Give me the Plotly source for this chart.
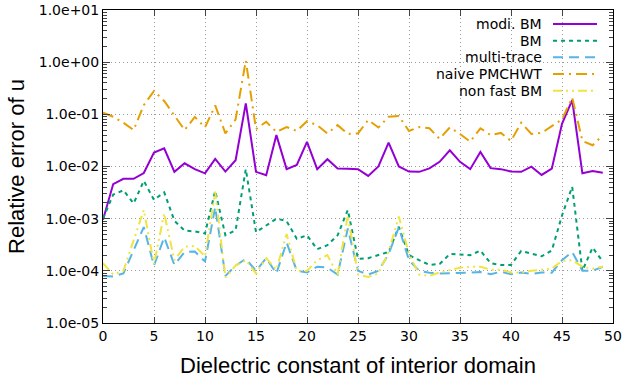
import plotly.graph_objects as go

# ---------------- data ----------------
eps = list(range(50))

modi_bm = [9.5e-4, 4.6e-3, 5.8e-3, 5.8e-3, 7.5e-3, 1.85e-2, 2.24e-2, 7.9e-3, 1.15e-2, 8.9e-3,
           7.4e-3, 1.4e-2, 8.0e-3, 1.32e-2, 0.162, 7.9e-3, 6.8e-3, 4.0e-2, 8.9e-3, 1.07e-2,
           2.96e-2, 8.9e-3, 1.38e-2, 9.2e-3, 9.1e-3, 8.9e-3, 6.6e-3, 1.0e-2, 2.87e-2, 1.0e-2,
           8.0e-3, 7.9e-3, 9.2e-3, 1.23e-2, 2.05e-2, 1.23e-2, 8.9e-3, 1.9e-2, 9.3e-3, 8.9e-3,
           8.0e-3, 7.9e-3, 9.9e-3, 6.9e-3, 9.1e-3, 6.6e-2, 0.187, 7.4e-3, 8.2e-3, 7.6e-3]

bm = [1.0e-3, 2.9e-3, 3.5e-3, 1.96e-3, 5.3e-3, 2.3e-3, 3.2e-3, 9.1e-4, 5.9e-4, 5.7e-4,
      5.2e-4, 3.4e-3, 4.8e-4, 6.0e-4, 8.9e-3, 5.5e-4, 7.4e-4, 1.0e-3, 9.0e-4, 4.1e-4,
      4.8e-4, 2.6e-4, 3.1e-4, 4.8e-4, 1.47e-3, 1.7e-4, 1.75e-4, 2.0e-4, 2.3e-4, 7.0e-4,
      2.0e-4, 1.6e-4, 1.3e-4, 1.35e-4, 2.1e-4, 2.05e-4, 2.0e-4, 2.45e-4, 1.4e-4, 1.3e-4,
      1.3e-4, 2.4e-4, 2.1e-4, 1.9e-4, 2.45e-4, 1.15e-3, 4.1e-3, 1.0e-4, 2.8e-4, 1.5e-4]

multi_trace = [8.0e-5, 7.8e-5, 8.9e-5, 2.5e-4, 6.9e-4, 1.26e-4, 4.4e-4, 1.3e-4, 2.3e-4, 2.35e-4,
               1.5e-4, 1.66e-3, 8.0e-5, 1.26e-4, 1.7e-4, 1.0e-4, 1.75e-4, 8.9e-5, 3.5e-4, 1.0e-4,
               9.3e-5, 1.2e-4, 1.15e-4, 8.5e-5, 6.5e-4, 1.0e-4, 8.5e-5, 1.0e-4, 2.1e-4, 6.8e-4,
               1.6e-4, 1.0e-4, 9.2e-5, 8.9e-5, 8.9e-5, 8.9e-5, 9.2e-5, 9.5e-5, 8.6e-5, 9.6e-5,
               8.6e-5, 9.3e-5, 8.7e-5, 9.3e-5, 9.2e-5, 1.6e-4, 2.3e-4, 1.0e-4, 1.0e-4, 1.2e-4]

naive_pmchwt = [0.107, 0.09, 0.069, 0.05, 0.15, 0.28, 0.18, 0.093, 0.05, 0.089,
                0.056, 0.148, 0.043, 0.08, 1.07, 0.052, 0.072, 0.046, 0.057, 0.048,
                0.074, 0.062, 0.043, 0.062, 0.042, 0.043, 0.078, 0.056, 0.09, 0.093,
                0.048, 0.057, 0.054, 0.034, 0.056, 0.042, 0.030, 0.054, 0.040, 0.044,
                0.031, 0.069, 0.042, 0.044, 0.060, 0.080, 0.21, 0.031, 0.0255, 0.040]

non_fast_bm = [1.4e-4, 8.5e-5, 1.0e-4, 3.8e-4, 1.47e-3, 1.35e-4, 1.26e-3, 1.6e-4, 2.9e-4, 3.0e-4,
               1.9e-4, 3.3e-3, 7.4e-5, 1.26e-4, 1.6e-4, 8.9e-5, 1.75e-4, 1.05e-4, 5.1e-4, 1.0e-4,
               1.0e-4, 1.6e-4, 2.0e-4, 8.5e-5, 1.15e-3, 8.5e-5, 7.6e-5, 8.9e-5, 2.3e-4, 1.1e-3,
               2.1e-4, 8.5e-5, 8.0e-5, 9.3e-5, 1.05e-4, 1.15e-4, 1.2e-4, 1.2e-4, 1.05e-4, 1.05e-4,
               9.3e-5, 9.3e-5, 1.0e-4, 1.05e-4, 1.1e-4, 1.55e-4, 1.6e-4, 1.2e-4, 1.1e-4, 1.2e-4]

series_names = ["modi. BM", "BM", "multi-trace", "naive PMCHWT", "non fast BM"]
series_values = [modi_bm, bm, multi_trace, naive_pmchwt, non_fast_bm]

y_tick_vals = [1e-5, 1e-4, 1e-3, 1e-2, 1e-1, 1e0, 1e1]
y_tick_text = ["1.0e-05", "1.0e-04", "1.0e-03", "1.0e-02", "1.0e-01", "1.0e+00", "1.0e+01"]
x_tick_vals = [0, 5, 10, 15, 20, 25, 30, 35, 40, 45, 50]

# ---------------- styles ----------------
colors = ["#9400d3", "#009e73", "#56b4e9", "#e69f00", "#f0e442"]
dashes = ["solid", "4px,4px", "10px,6px", "11px,5px,2px,5px", "9px,4px,2px,4px,2px,4px"]

fig = go.Figure()
for name, vals, c, d in zip(series_names, series_values, colors, dashes):
    fig.add_trace(go.Scatter(x=eps, y=vals, mode="lines", name=name, showlegend=False,
                             line=dict(color=c, width=2, dash=d)))

minor_vals = [m * 10.0 ** e for e in range(-5, 1) for m in range(2, 10)]

tickfont = dict(family="DejaVu Sans", size=14, color="#000000")
titlefont = dict(family="Liberation Sans", size=22, color="#000000")
grid = dict(showgrid=True, gridcolor="#9a9a9a", griddash="1px,3px", gridwidth=1)

fig.update_xaxes(range=[0, 50], tickvals=x_tick_vals, ticks="inside", ticklen=6,
                 showline=True, linecolor="black", linewidth=1, mirror="allticks",
                 zeroline=False, tickfont=tickfont, automargin=False, **grid,
                 title=dict(text="Dielectric constant of interior domain", font=titlefont, standoff=14))
fig.update_yaxes(type="log", range=[-5, 1], tickvals=y_tick_vals, ticktext=y_tick_text,
                 ticks="inside", ticklen=7,
                 minor=dict(tickvals=minor_vals, ticks="inside", ticklen=4, showgrid=False),
                 showline=True, linecolor="black", linewidth=1, mirror="allticks",
                 zeroline=False, tickfont=tickfont, automargin=False, **grid,
                 title=dict(text="Relative error of u", font=titlefont, standoff=8))

# legend drawn gnuplot-style: text right-aligned, sample line on the right
L, R, T, B = 103, 13, 10, 62
W, H = 626 - L - R, 385 - T - B
def px(x):
    return (x - L) / W
def py(y):
    return (385 - B - y) / H

shapes = [dict(type="rect", xref="paper", yref="paper", x0=px(432), x1=px(606), y0=py(98), y1=py(11),
               fillcolor="white", line=dict(width=0), layer="between")]
annotations = []
row_y = [24, 40.7, 57.3, 74, 90.7]
for name, c, d, ry in zip(series_names, colors, dashes, row_y):
    annotations.append(dict(text=name, xref="paper", yref="paper", x=px(544), y=py(ry),
                            xanchor="right", yanchor="middle", showarrow=False,
                            font=dict(family="DejaVu Sans", size=14, color="black")))
    shapes.append(dict(type="line", xref="paper", yref="paper", x0=px(553), x1=px(597),
                       y0=py(ry), y1=py(ry), line=dict(color=c, width=2, dash=d)))

fig.update_layout(width=626, height=385, margin=dict(l=L, r=R, t=T, b=B),
                  paper_bgcolor="white", plot_bgcolor="white",
                  shapes=shapes, annotations=annotations, showlegend=False)

fig.write_html("out.html")
